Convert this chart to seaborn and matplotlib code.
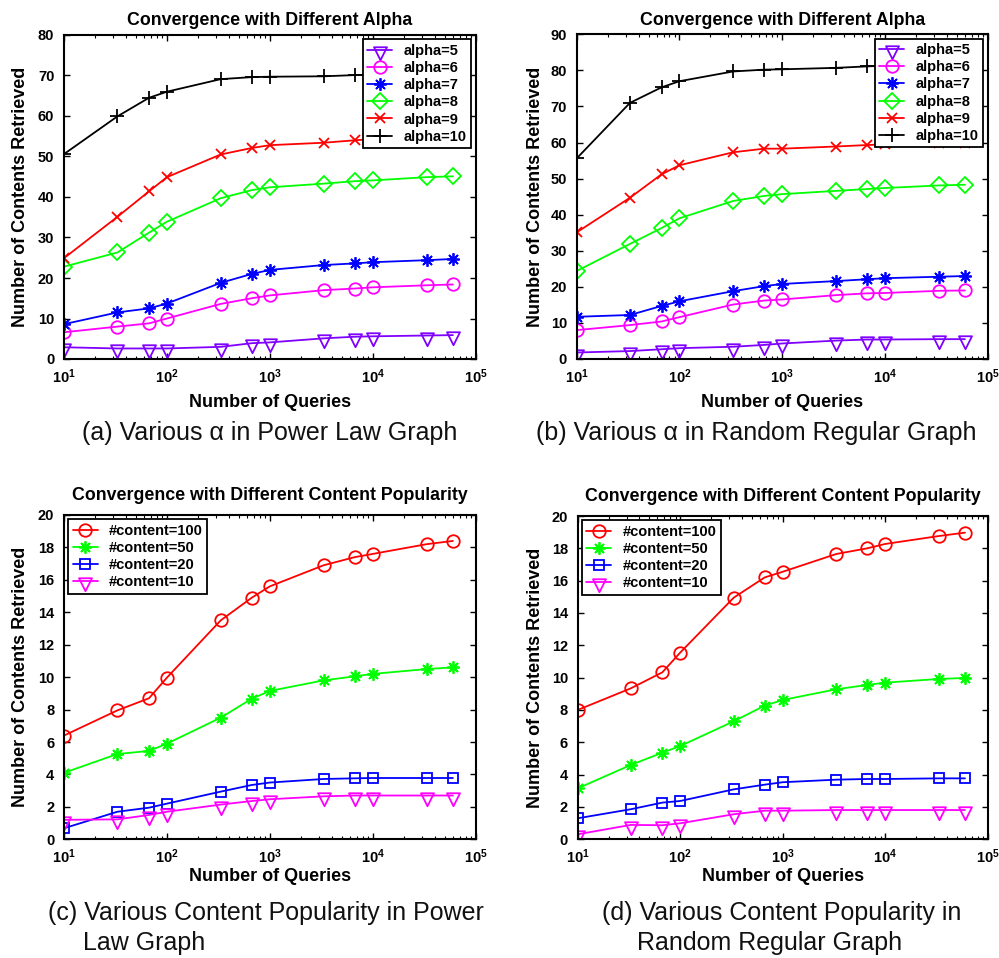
import numpy as np
import pandas as pd
import matplotlib
matplotlib.use('Agg')
import matplotlib.pyplot as plt
from matplotlib.path import Path
import seaborn as sns

# query counts (x axis, log scale)
queries = [10, 33, 67, 100, 333, 667, 1000, 3333, 6667, 10000, 33333, 60000]

# (a) power law graph, various alpha
pl_alpha5 = [2.9, 2.6, 2.6, 2.6, 3.0, 3.9, 4.1, 5.1, 5.5, 5.6, 5.8, 5.9]
pl_alpha6 = [6.6, 8.0, 8.8, 10.0, 13.6, 15.0, 15.7, 17.0, 17.4, 17.7, 18.2, 18.4]
pl_alpha7 = [8.6, 11.5, 12.5, 13.7, 18.8, 21.0, 22.0, 23.2, 23.6, 23.9, 24.4, 24.7]
pl_alpha8 = [22.8, 26.3, 31.2, 33.9, 39.7, 41.7, 42.4, 43.3, 43.9, 44.1, 44.9, 45.1]
pl_alpha9 = [24.9, 35.1, 41.4, 44.9, 50.5, 52.1, 52.8, 53.4, 54.0, 54.3, 54.6, 54.8]
pl_alpha10 = [50.6, 59.9, 64.5, 66.0, 69.1, 69.6, 69.7, 69.8, 70.1, 70.2, 70.4, 70.5]

# (b) random regular graph, various alpha
rr_alpha5 = [1.8, 2.2, 2.7, 3.0, 3.4, 3.9, 4.3, 5.1, 5.4, 5.4, 5.5, 5.5]
rr_alpha6 = [8.0, 9.4, 10.4, 11.6, 15.1, 16.2, 16.5, 17.7, 18.2, 18.3, 18.9, 19.0]
rr_alpha7 = [11.7, 12.2, 14.7, 16.0, 18.8, 20.2, 20.8, 21.6, 22.1, 22.4, 22.8, 23.0]
rr_alpha8 = [24.4, 31.9, 36.3, 39.0, 43.8, 45.2, 45.7, 46.6, 47.1, 47.4, 48.1, 48.3]
rr_alpha9 = [35.1, 44.7, 51.2, 53.7, 57.3, 58.3, 58.3, 58.9, 59.3, 59.5, 59.8, 60.0]
rr_alpha10 = [55.6, 71.0, 75.3, 77.0, 79.7, 80.2, 80.3, 80.7, 81.1, 81.3, 81.6, 81.8]

# (c) power law graph, content popularity
pl_c100 = [6.4, 7.95, 8.7, 9.97, 13.5, 14.9, 15.6, 16.9, 17.4, 17.6, 18.2, 18.4]
pl_c50 = [4.1, 5.26, 5.45, 5.9, 7.5, 8.67, 9.15, 9.8, 10.05, 10.2, 10.5, 10.6]
pl_c20 = [0.68, 1.7, 1.95, 2.2, 2.94, 3.35, 3.5, 3.72, 3.76, 3.78, 3.78, 3.78]
pl_c10 = [1.2, 1.23, 1.5, 1.7, 2.14, 2.36, 2.47, 2.65, 2.7, 2.7, 2.7, 2.7]

# (d) random regular graph, content popularity
rr_c100 = [8.0, 9.34, 10.33, 11.55, 14.95, 16.2, 16.55, 17.65, 18.0, 18.27, 18.76, 18.97]
rr_c50 = [3.15, 4.6, 5.36, 5.77, 7.3, 8.27, 8.62, 9.28, 9.55, 9.69, 9.92, 9.98]
rr_c20 = [1.3, 1.86, 2.27, 2.37, 3.09, 3.38, 3.53, 3.69, 3.73, 3.73, 3.77, 3.77]
rr_c10 = [0.31, 0.89, 0.87, 0.99, 1.55, 1.77, 1.77, 1.81, 1.81, 1.81, 1.81, 1.81]

alpha_labels = ['alpha=5', 'alpha=6', 'alpha=7', 'alpha=8', 'alpha=9', 'alpha=10']
content_labels = ['#content=100', '#content=50', '#content=20', '#content=10']

sns.set_style('ticks')
plt.rcParams['font.family'] = ['Liberation Sans', 'DejaVu Sans']
plt.rcParams['font.weight'] = 'bold'
plt.rcParams['text.color'] = 'black'
plt.rcParams['axes.labelcolor'] = 'black'
plt.rcParams['xtick.color'] = 'black'
plt.rcParams['ytick.color'] = 'black'
plt.rcParams['mathtext.fontset'] = 'custom'
plt.rcParams['mathtext.rm'] = 'Liberation Sans:bold'
plt.rcParams['mathtext.bf'] = 'Liberation Sans:bold'
plt.rcParams['mathtext.default'] = 'bf'

# MATLAB-like markers: down triangle sits a bit low on the line, 8-arm asterisk
tri_down = Path([(-1, 0.5), (1, 0.5), (0, -1.5), (-1, 0.5)],
                [Path.MOVETO, Path.LINETO, Path.LINETO, Path.CLOSEPOLY])
asterisk = (8, 2, 0)
alpha_styles = [('#8000FF', tri_down, 14), ('#FF00FF', 'o', 9), ('#0000FF', asterisk, 9),
                ('#00FF00', 'D', 8), ('#FF0000', 'x', 7), ('#000000', '+', 10)]
content_styles = [('#FF0000', 'o', 9), ('#00FF00', asterisk, 9),
                  ('#0000FF', 's', 7), ('#FF00FF', tri_down, 14)]

W, H = 999, 958
fig = plt.figure(figsize=(W / 100, H / 100), dpi=100)


def px_axes(left, top, right, bottom):
    return fig.add_axes([left / W, 1 - bottom / H, (right - left) / W, (bottom - top) / H])


def draw(ax, series, labels, styles, ymax, ystep, title, title_pad, legend_loc,
         xlabelpad, ylabel_x):
    for vals, lab, (col, mk, ms) in zip(series, labels, styles):
        sns.lineplot(x=queries, y=vals, ax=ax, color=col, marker=mk, markersize=ms,
                     markerfacecolor='none', markeredgecolor=col, markeredgewidth=1.3,
                     linewidth=1.3, label=lab)
    ax.set_xscale('log')
    ax.set_xlim(10, 1e5)
    ax.set_ylim(0, ymax)
    ax.set_yticks(np.arange(0, ymax + 0.1, ystep))
    ax.tick_params(which='both', direction='in', top=True, right=True, labelsize=10.5)
    ax.tick_params(axis='x', which='major', pad=6)
    ax.tick_params(axis='y', which='major', pad=7)
    ax.tick_params(which='major', length=4, width=1)
    ax.tick_params(which='minor', length=2, width=0.8)
    for lab in ax.get_yticklabels():
        lab.set_fontweight('bold')
    for s in ax.spines.values():
        s.set_linewidth(1.5)
        s.set_color('black')
    ax.set_title(title, fontsize=12.8, fontweight='bold', pad=title_pad)
    ax.set_xlabel('Number of Queries', fontsize=13, fontweight='bold', labelpad=xlabelpad)
    ax.set_ylabel('Number of Contents Retrieved', fontsize=13, fontweight='bold')
    ax.yaxis.set_label_coords(ylabel_x, 0.5)
    leg = ax.legend(loc=legend_loc, frameon=True, fancybox=False,
                    framealpha=1, edgecolor='black', handlelength=1.7,
                    labelspacing=0.22, borderaxespad=0.3, borderpad=0.3,
                    prop={'weight': 'bold', 'size': 10.5})
    leg.get_frame().set_linewidth(1.3)


ax_a = px_axes(64, 35, 475.7, 359)
draw(ax_a, [pl_alpha5, pl_alpha6, pl_alpha7, pl_alpha8, pl_alpha9, pl_alpha10],
     alpha_labels, alpha_styles, 80, 10, 'Convergence with Different Alpha', 7,
     'upper right', 6, -0.085)

ax_b = px_axes(576.7, 34.3, 987.7, 359)
draw(ax_b, [rr_alpha5, rr_alpha6, rr_alpha7, rr_alpha8, rr_alpha9, rr_alpha10],
     alpha_labels, alpha_styles, 90, 10, 'Convergence with Different Alpha', 7,
     'upper right', 6, -0.08)

ax_c = px_axes(64, 515, 475.7, 839.3)
draw(ax_c, [pl_c100, pl_c50, pl_c20, pl_c10],
     content_labels, content_styles, 20, 2, 'Convergence with Different Content Popularity', 11,
     'upper left', 1, -0.085)

ax_d = px_axes(577.7, 516, 987.7, 839.3)
draw(ax_d, [rr_c100, rr_c50, rr_c20, rr_c10],
     content_labels, content_styles, 20, 2, 'Convergence with Different Content Popularity', 11,
     'upper left', 1, -0.082)

cap = dict(fontsize=18, fontweight='normal', va='center', color='#111111')
fig.text(270 / W, 1 - 433 / H, '(a) Various α in Power Law Graph', ha='center', **cap)
fig.text(756 / W, 1 - 433 / H, '(b) Various α in Random Regular Graph', ha='center', **cap)
fig.text(48 / W, 1 - 913 / H, '(c) Various Content Popularity in Power', ha='left', **cap)
fig.text(83 / W, 1 - 943 / H, 'Law Graph', ha='left', **cap)
fig.text(782 / W, 1 - 913 / H, '(d) Various Content Popularity in', ha='center', **cap)
fig.text(770 / W, 1 - 943 / H, 'Random Regular Graph', ha='center', **cap)

fig.savefig('out.png', dpi=100)
